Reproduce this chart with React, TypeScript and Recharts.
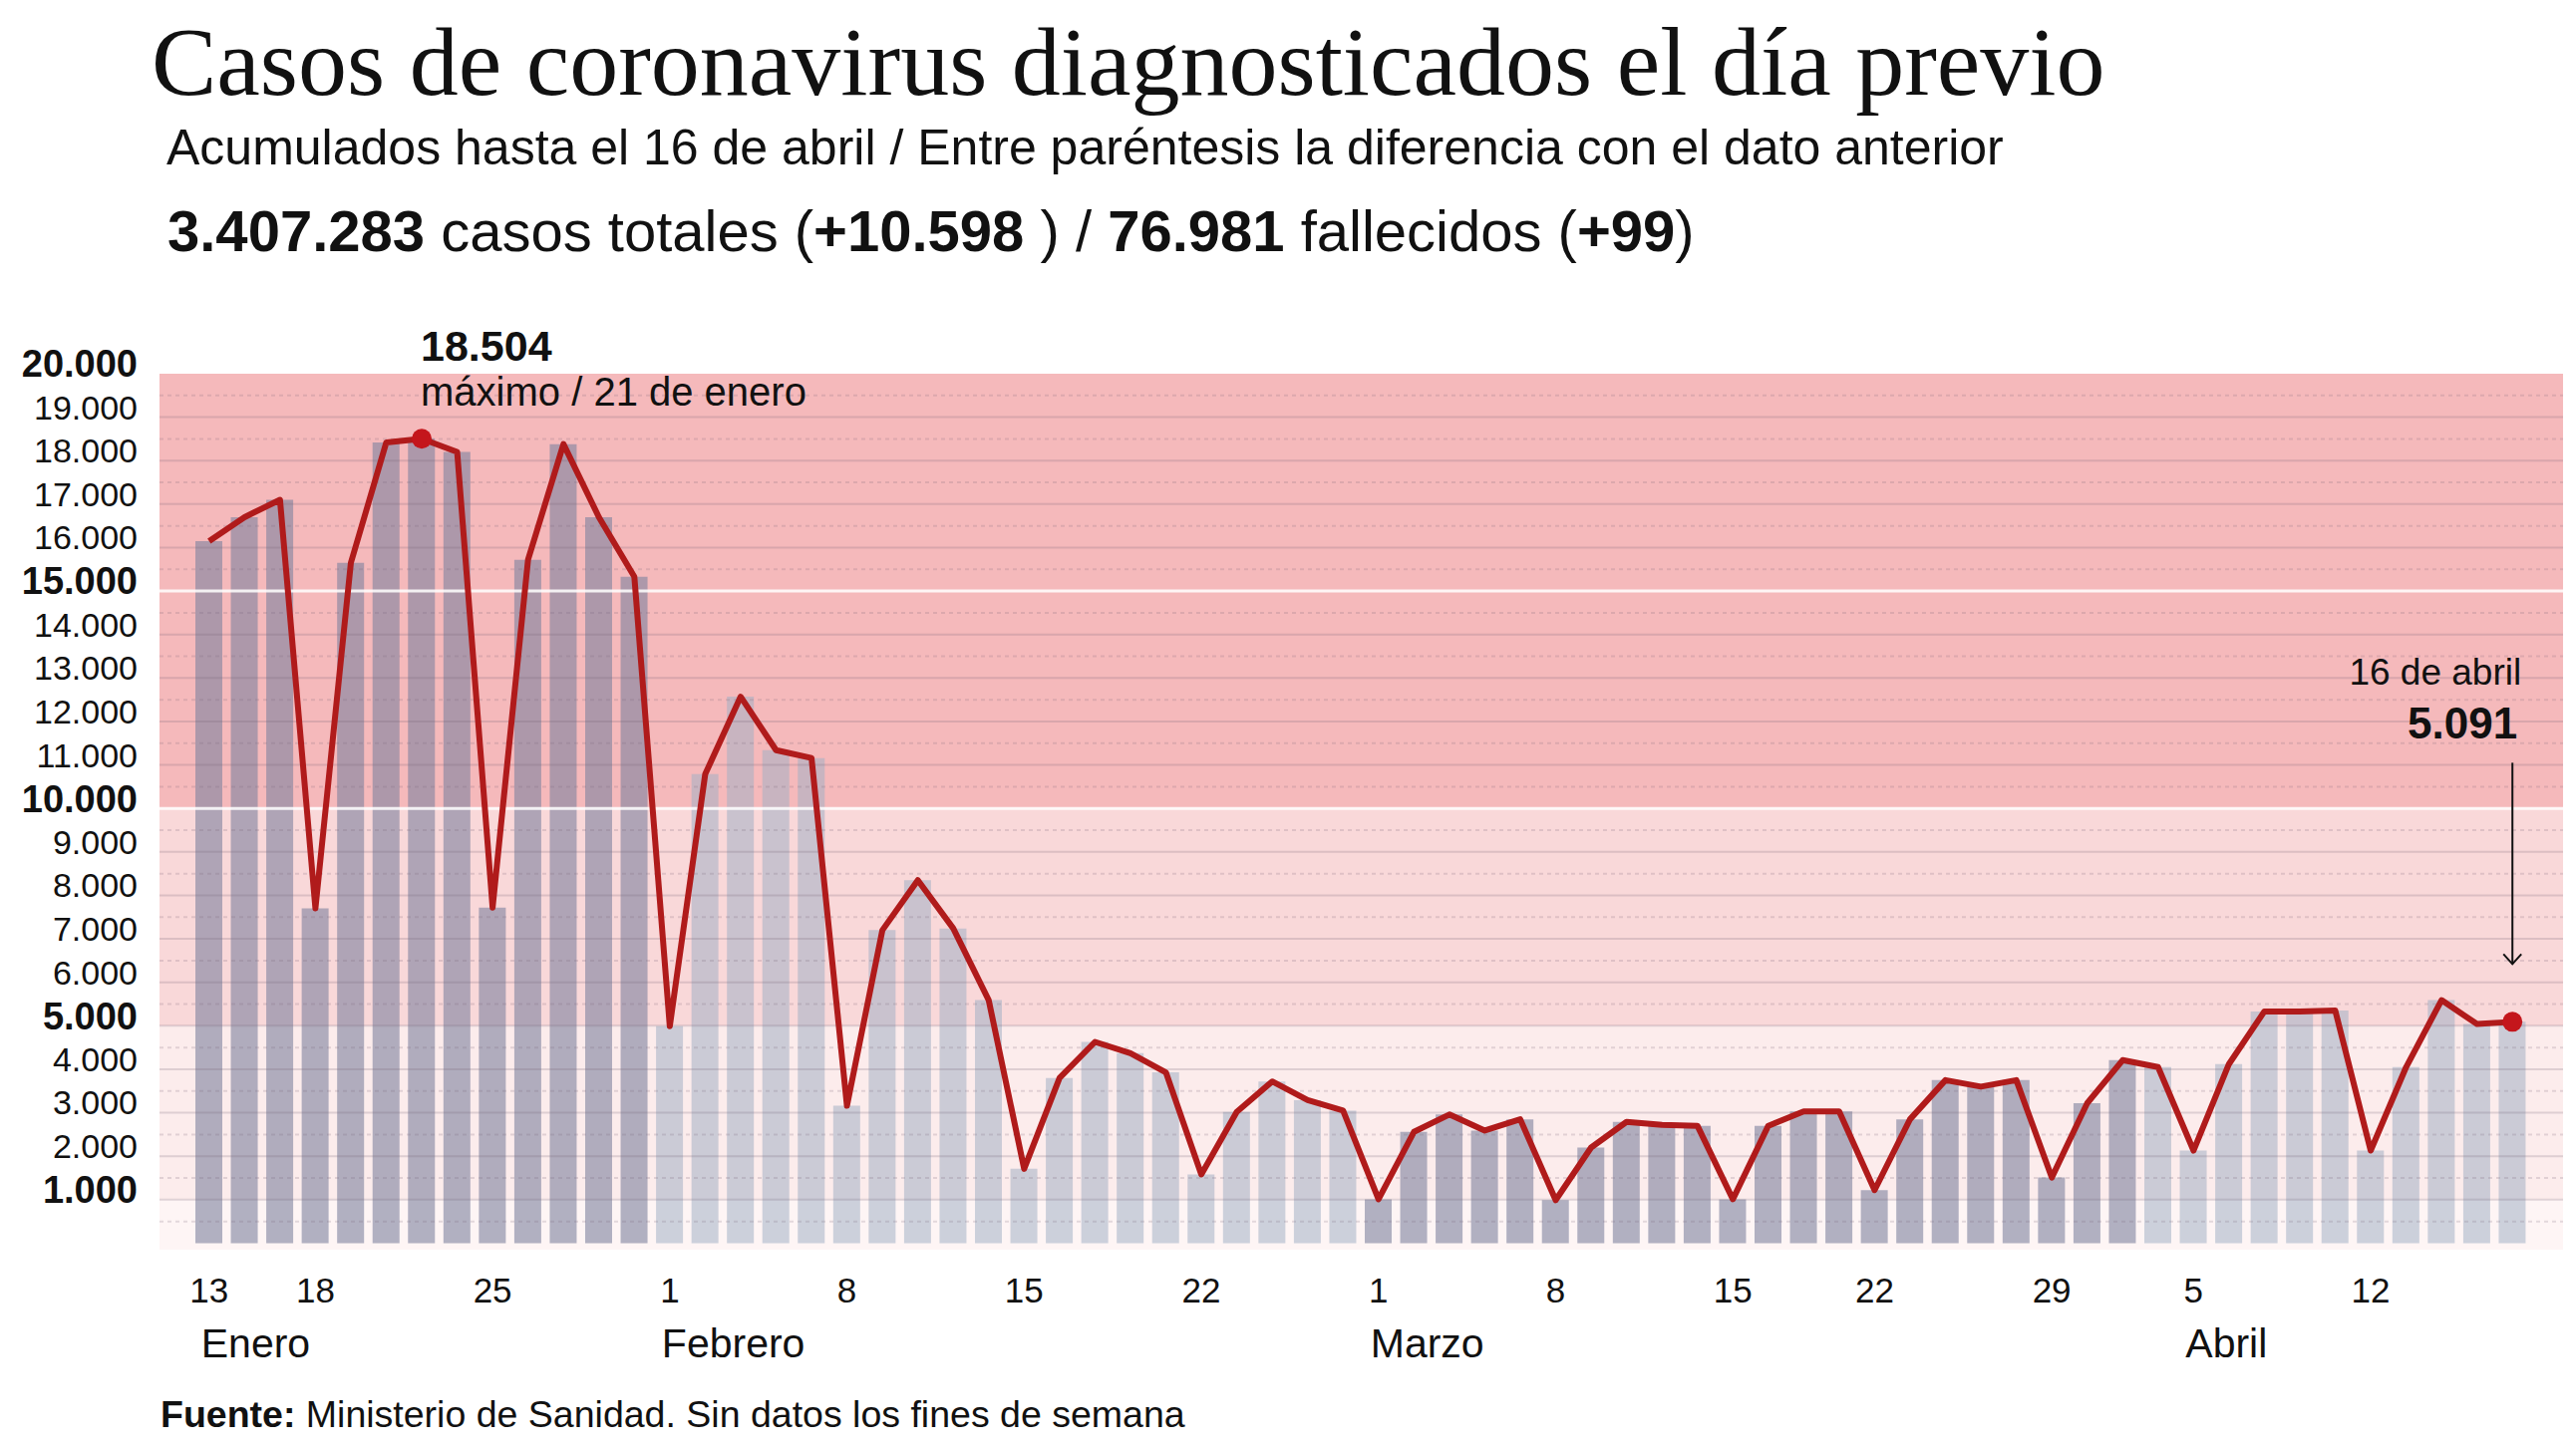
import React from "react";
import {
  ComposedChart,
  Bar,
  Line,
  XAxis,
  YAxis,
  ReferenceArea,
  ReferenceLine,
  Cell,
} from "recharts";

// dias con dato (sin fines de semana), 13 de enero - 16 de abril de 2021
const fechas = [
  "13/01", "14/01", "15/01", "18/01", "19/01", "20/01", "21/01", "22/01", "25/01", "26/01", "27/01", "28/01", "29/01",
  "01/02", "02/02", "03/02", "04/02", "05/02", "08/02", "09/02", "10/02", "11/02", "12/02", "15/02", "16/02", "17/02",
  "18/02", "19/02", "22/02", "23/02", "24/02", "25/02", "26/02",
  "01/03", "02/03", "03/03", "04/03", "05/03", "08/03", "09/03", "10/03", "11/03", "12/03", "15/03", "16/03", "17/03",
  "18/03", "22/03", "23/03", "24/03", "25/03", "26/03", "29/03", "30/03", "31/03",
  "01/04", "05/04", "06/04", "07/04", "08/04", "09/04", "12/04", "13/04", "14/04", "15/04", "16/04",
];

const casos = [
  16150, 16700, 17100, 7700, 15650, 18420, 18504, 18200, 7720, 15720, 18380, 16700, 15330,
  4990, 10790, 12570, 11340, 11160, 3160, 7200, 8350, 7240, 5590, 1710, 3800, 4630,
  4370, 3930, 1580, 3020, 3720, 3290, 3050,
  1010, 2560, 2960, 2590, 2850, 990, 2200, 2790, 2720, 2700, 1010, 2700, 3030,
  3030, 1220, 2850, 3750, 3600, 3750, 1510, 3220, 4210,
  4050, 2130, 4120, 5330, 5330, 5350, 2130, 4050, 5590, 5040, 5091,
];

const tickFechas = [
  "13/01", "18/01", "25/01", "01/02", "08/02", "15/02", "22/02",
  "01/03", "08/03", "15/03", "22/03", "29/03", "05/04", "12/04",
];

const etiquetasMes: [string, string][] = [
  ["13/01", "Enero"],
  ["01/02", "Febrero"],
  ["01/03", "Marzo"],
  ["05/04", "Abril"],
];

const mesesOscuros = ["01", "03"];

const yTicks = [1000, 2000, 3000, 4000, 5000, 6000, 7000, 8000, 9000, 10000,
  11000, 12000, 13000, 14000, 15000, 16000, 17000, 18000, 19000, 20000];
const yDestacados = [1000, 5000, 10000, 15000, 20000];
const medios = [500, 1500, 2500, 3500, 4500, 5500, 6500, 7500, 8500, 9500,
  10500, 11500, 12500, 13500, 14500, 15500, 16500, 17500, 18500, 19500];
const lineasBlancas = [10000, 15000];
const bandas: [number, number][] = [[-150, 1000], [1000, 5000], [5000, 10000], [10000, 20000]];

const coloresBanda = ["#fef5f5", "#fcecec", "#f9d8d9", "#f5b9bb"];
const SANS = "'Liberation Sans', Arial, Helvetica, sans-serif";
const ROJO = "#b01b1b";

const data = fechas.map((f, i) => ({ fecha: f, casos: casos[i] }));
const iMax = casos.indexOf(Math.max(...casos));
const iLast = casos.length - 1;
const mesMap = new Map(etiquetasMes);

const fmt = (n: number) => String(n).replace(/\B(?=(\d{3})+(?!\d))/g, ".");

const YTick = (p: any) => {
  const v = p.payload.value;
  const bold = yDestacados.includes(v);
  return (
    <text
      x={p.x}
      y={p.y - 10}
      dy="0.35em"
      textAnchor="end"
      fontFamily={SANS}
      fontSize={bold ? 38 : 34}
      fontWeight={bold ? "bold" : "normal"}
      fill="#111"
    >
      {fmt(v)}
    </text>
  );
};

const XTick = (p: any) => {
  const f: string = p.payload.value;
  const mes = mesMap.get(f);
  return (
    <g>
      <text x={p.x} y={p.y + 53} textAnchor="middle" fontFamily={SANS} fontSize={35} fill="#111">
        {String(parseInt(f.slice(0, 2), 10))}
      </text>
      {mes && (
        <text x={p.x - 8} y={p.y + 108} fontFamily={SANS} fontSize={41} fill="#111">
          {mes}
        </text>
      )}
    </g>
  );
};

const renderDot = (p: any) => {
  const { cx, cy, index } = p;
  if (index === iMax) {
    return (
      <g key="dot-max">
        <circle cx={cx} cy={cy} r={10} fill="#c4161c" />
        <text x={cx - 1} y={cy - 78} fontFamily={SANS} fontSize={43} fontWeight="bold" fill="#111">
          {fmt(casos[iMax])}
        </text>
        <text x={cx - 1} y={cy - 33} fontFamily={SANS} fontSize={40} fill="#111">
          máximo / 21 de enero
        </text>
      </g>
    );
  }
  if (index === iLast) {
    return (
      <g key="dot-last">
        <circle cx={cx} cy={cy} r={10} fill="#c4161c" />
        <line x1={cx} x2={cx} y1={cy - 260} y2={cy - 58} stroke="#111" strokeWidth={2} />
        <polyline
          points={`${cx - 9},${cy - 68} ${cx},${cy - 58} ${cx + 9},${cy - 68}`}
          fill="none"
          stroke="#111"
          strokeWidth={2}
        />
        <text x={cx + 5} y={cy - 284} textAnchor="end" fontFamily={SANS} fontSize={44} fontWeight="bold" fill="#111">
          {fmt(casos[iLast])}
        </text>
        <text x={cx + 9} y={cy - 338} textAnchor="end" fontFamily={SANS} fontSize={37} fill="#111">
          16 de abril
        </text>
      </g>
    );
  }
  return <g key={`dot-${index}`} />;
};

export default function App() {
  return (
    <div style={{ position: "absolute", left: 0, top: 0, width: 2584, height: 1455, background: "#fff" }}>
      <ComposedChart
        width={2584}
        height={1455}
        data={data}
        baseValue="dataMin"
        margin={{ top: 375, right: 13, bottom: 51, left: 20 }}
      >
        <XAxis xAxisId="bg" type="number" domain={[0, 1]} allowDataOverflow hide />
        <XAxis
          dataKey="fecha"
          ticks={tickFechas}
          interval={0}
          padding={{ left: 32, right: 33 }}
          height={150}
          axisLine={false}
          tickLine={false}
          tickSize={0}
          tickMargin={0}
          tick={<XTick />}
        />
        <YAxis
          domain={[-150, 20000]}
          ticks={yTicks}
          interval={0}
          width={140}
          axisLine={false}
          tickLine={false}
          tickSize={0}
          tickMargin={22}
          tick={<YTick />}
        />
        {bandas.map(([a, b], i) => (
          <ReferenceArea
            key={`banda-${i}`}
            xAxisId="bg"
            x1={-1000000}
            x2={1000000}
            y1={a}
            y2={b}
            ifOverflow="hidden"
            fill={coloresBanda[i]}
            fillOpacity={1}
            stroke="none"
          />
        ))}
        <Bar dataKey="casos" barSize={27} isAnimationActive={false}>
          {data.map((d, i) => (
            <Cell
              key={`c-${i}`}
              fill={mesesOscuros.includes(d.fecha.slice(3)) ? "#7d829e" : "#a3b1c4"}
              fillOpacity={mesesOscuros.includes(d.fecha.slice(3)) ? 0.6 : 0.55}
            />
          ))}
        </Bar>
        {lineasBlancas.map((v) => (
          <ReferenceLine key={`blanca-${v}`} xAxisId="bg" y={v} stroke="#ffffff" strokeOpacity={0.85} strokeWidth={3} />
        ))}
        {yTicks
          .filter((v) => !lineasBlancas.includes(v) && v < 20000)
          .map((v) => (
            <ReferenceLine key={`g-${v}`} xAxisId="bg" y={v} stroke="rgba(120,100,120,0.22)" strokeWidth={2} />
          ))}
        {medios.map((v) => (
          <ReferenceLine
            key={`m-${v}`}
            xAxisId="bg"
            y={v}
            stroke="rgba(120,100,120,0.2)"
            strokeWidth={2}
            strokeDasharray="4 4"
          />
        ))}
        <Line
          dataKey="casos"
          type="linear"
          stroke={ROJO}
          strokeWidth={6}
          strokeLinejoin="round"
          dot={renderDot}
          activeDot={false}
          isAnimationActive={false}
        />
      </ComposedChart>
      <svg
        width={2584}
        height={1455}
        style={{ position: "absolute", left: 0, top: 0, pointerEvents: "none" }}
      >
        <text x={152} y={95} fontFamily="'Liberation Serif', 'Times New Roman', serif" fontSize={98} fill="#111">
          Casos de coronavirus diagnosticados el día previo
        </text>
        <text x={167} y={165} fontFamily={SANS} fontSize={50} fill="#111">
          Acumulados hasta el 16 de abril / Entre paréntesis la diferencia con el dato anterior
        </text>
        <text x={168} y={252} fontFamily={SANS} fontSize={58} fill="#111">
          <tspan fontWeight="bold">3.407.283</tspan>
          <tspan> casos totales (</tspan>
          <tspan fontWeight="bold">+10.598</tspan>
          <tspan> ) / </tspan>
          <tspan fontWeight="bold">76.981</tspan>
          <tspan> fallecidos (</tspan>
          <tspan fontWeight="bold">+99</tspan>
          <tspan>)</tspan>
        </text>
        <text x={161} y={1432} fontFamily={SANS} fontSize={37.5} fill="#111">
          <tspan fontWeight="bold">Fuente:</tspan>
          <tspan> Ministerio de Sanidad. Sin datos los fines de semana</tspan>
        </text>
      </svg>
    </div>
  );
}
